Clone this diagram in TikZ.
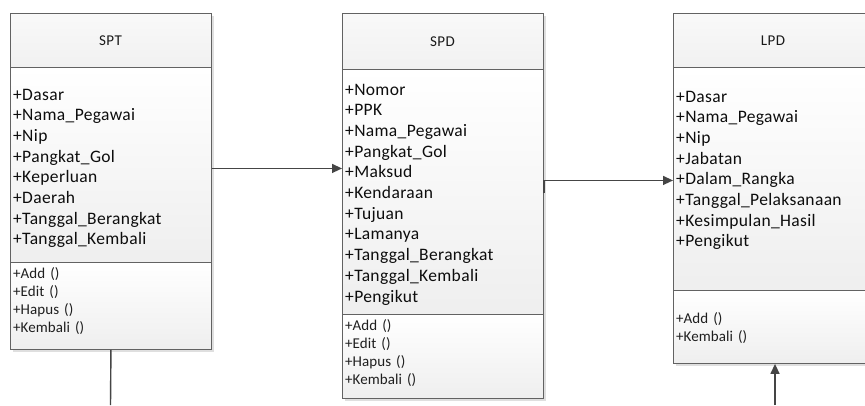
\documentclass[tikz,border=0pt]{standalone}
\usepackage{fontspec}
\setmainfont{Carlito}
\usetikzlibrary{arrows.meta}
\definecolor{edge}{HTML}{626262}
\definecolor{wire}{HTML}{454545}
\newcommand{\attrfont}{\fontsize{17.5}{20.7}\selectfont\addfontfeature{LetterSpace=2}}
\newcommand{\opsfont}{\fontsize{15}{18.3}\selectfont\addfontfeature{LetterSpace=0.5}}
\newcommand{\headfont}{\fontsize{15}{17}\selectfont\addfontfeature{LetterSpace=3}}
\tikzset{
  part/.style={draw=edge, line width=0.9pt, anchor=north west, inner sep=0pt,
    minimum width=201pt, top color=white, bottom color=gray!13},
  headpart/.style={part, top color=gray!5, bottom color=gray!11},
  shade box/.style={fill=gray!25, draw=none},
  members/.style={anchor=base west, inner sep=0pt, align=left, text width=195pt},
  attrs/.style={members, font=\attrfont, text=black!95},
  ops/.style={members, font=\opsfont, text=black!88},
  title/.style={anchor=base, inner sep=0pt, font=\headfont, text=black!90},
  link/.style={draw=wire, line width=1.4pt},
  arrowlink/.style={link, -{Triangle[length=10pt,width=9pt]}}
}
\begin{document}
\begin{tikzpicture}[x=1pt,y=-1pt]
\useasboundingbox (0,0) rectangle (865,405);
\clip (0,0) rectangle (865,405);
\fill[white] (0,0) rectangle (865,405);

% drop shadows behind the three classes
\fill[shade box] (13,16) rectangle (214,352);
\fill[shade box] (345,16) rectangle (546,401);
\fill[shade box] (676,16) rectangle (877,366);

% class SPT
\node[headpart, minimum height=54pt] (sptHead) at (10,13) {};
\node[part, minimum height=195pt] (sptAttr) at (10,67) {};
\node[part, minimum height=87pt] (sptOps) at (10,262) {};
\node[title] (sptName) at (110.5,45) {SPT};
\node[attrs] (sptAttrText) at (13,100) {+Dasar\\+Nama\_Pegawai\\+Nip\\+Pangkat\_Gol\\+Keperluan\\+Daerah\\+Tanggal\_Berangkat\\+Tanggal\_Kembali};
\node[ops] (sptOpsText) at (13,278) {+Add ()\\+Edit ()\\+Hapus ()\\+Kembali ()};

% class SPD
\node[headpart, minimum height=56pt] (spdHead) at (342,13) {};
\node[part, minimum height=245pt] (spdAttr) at (342,69) {};
\node[part, minimum height=84pt] (spdOps) at (342,314) {};
\node[title] (spdName) at (442.5,46.5) {SPD};
\node[attrs] (spdAttrText) at (345,95) {+Nomor\\+PPK\\+Nama\_Pegawai\\+Pangkat\_Gol\\+Maksud\\+Kendaraan\\+Tujuan\\+Lamanya\\+Tanggal\_Berangkat\\+Tanggal\_Kembali\\+Pengikut};
\node[ops] (spdOpsText) at (345,330) {+Add ()\\+Edit ()\\+Hapus ()\\+Kembali ()};

% class LPD
\node[headpart, minimum height=54pt] (lpdHead) at (673,13) {};
\node[part, minimum height=223pt] (lpdAttr) at (673,67) {};
\node[part, minimum height=73pt] (lpdOps) at (673,290) {};
\node[title] (lpdName) at (773,45) {LPD};
\node[attrs] (lpdAttrText) at (676,102) {+Dasar\\+Nama\_Pegawai\\+Nip\\+Jabatan\\+Dalam\_Rangka\\+Tanggal\_Pelaksanaan\\+Kesimpulan\_Hasil\\+Pengikut};
\node[ops] (lpdOpsText) at (676,323) {+Add ()\\+Kembali ()};

% associations
\coordinate (sptFoot) at (110.5,405);
\coordinate (lpdFoot) at (775,405);
\draw[arrowlink] ([yshift=-3.5pt]sptAttr.east) -- ([yshift=-3.5pt]sptAttr.east -| spdAttr.west);
\draw[arrowlink] ([yshift=-1.5pt]spdAttr.east) |- ([yshift=-1.5pt]lpdAttr.west);
\draw[link] (sptOps.south) -- (sptFoot);
\draw[arrowlink] (lpdFoot) -- (lpdFoot |- lpdOps.south);
\end{tikzpicture}
\end{document}
